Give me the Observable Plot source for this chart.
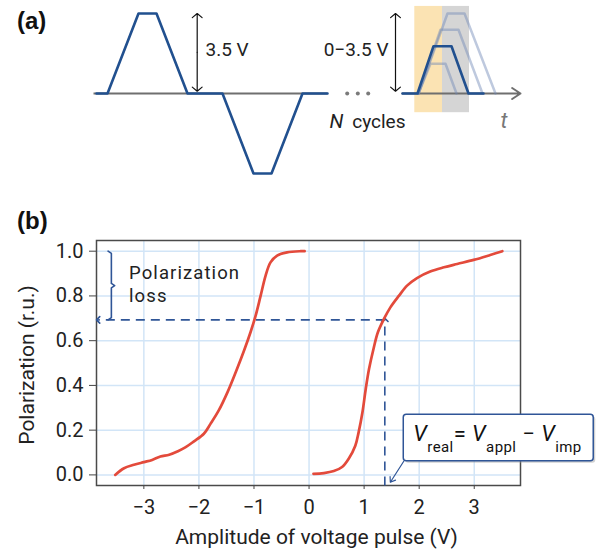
<!DOCTYPE html>
<html><head><meta charset="utf-8">
<script src="https://cdn.jsdelivr.net/npm/d3@7"></script>
<script src="https://cdn.jsdelivr.net/npm/@observablehq/plot@0.6"></script>
<style>
body{margin:0;background:#fff;}
#wrap{position:relative;width:600px;height:554px;overflow:hidden;font-family:Roboto,sans-serif;}
.panel{position:absolute;left:0;}
.tag{position:absolute;font-family:"Liberation Sans",Arial,sans-serif;font-weight:bold;font-size:24px;color:#111;line-height:1;}
</style></head><body>
<div id="wrap">
  <div id="pa" class="panel" style="top:0"></div>
  <div id="pb" class="panel" style="top:190px"></div>
  <div class="tag" style="left:17px;top:9px">(a)</div>
  <div class="tag" style="left:17px;top:209px">(b)</div>
</div>
<script>
// ---------- Panel (a): schematic pulse train (time in arbitrary units, amplitude in V)
const cycleT = [0.3, 1.4, 4.5, 6.3, 9.4, 12.9, 16.0, 17.8, 20.9, 23.4];
const cycleV = [0, 0, 3.5, 3.5, 0, 0, -3.5, -3.5, 0, 0];
const readT = [30.9, 32.4, 34.0, 35.8, 37.5, 39.0];
const readV = [0, 0, 2.07, 2.07, 0, 0];
const ghostIds = ["small","small","small","small","mid","mid","mid","mid","large","large","large","large"];
const ghostT = [32.5, 33.7, 35.2, 36.3, 32.5, 34.7, 36.5, 38.9, 32.5, 35.4, 37.1, 40.2];
const ghostV = [0, 1.3, 1.3, 0, 0, 2.79, 2.79, 0, 0, 3.5, 3.5, 0];
const winStart = [32.13, 34.9];
const winEnd = [34.9, 37.6];
const winV = [-0.84, 3.81];
const axisLeftT = [0, 23.4];
const axisRightT = [30.9, 42.7];
const dotsT = [25.37, 26.43, 27.47];
const ampArrowT = [10.37, 30.2];
const ampArrowV = [0.1, 3.5];

// ---------- Panel (b): polarization vs pulse amplitude
const leftV = [-3.52,-3.36,-3.18,-3.0,-2.85,-2.70,-2.54,-2.39,-2.24,-2.09,-1.91,-1.79,-1.64,-1.48,-1.33,-1.18,-1.06,-0.97,-0.88,-0.79,-0.70,-0.58,-0.40,-0.15,-0.08];
const leftP = [0.00,0.03,0.045,0.057,0.067,0.082,0.09,0.105,0.124,0.15,0.184,0.228,0.288,0.37,0.46,0.556,0.64,0.712,0.80,0.89,0.95,0.98,0.995,1.0,1.0];
const rightV = [0.08,0.27,0.45,0.60,0.72,0.84,0.90,0.97,1.03,1.09,1.17,1.25,1.36,1.48,1.63,1.78,1.96,2.20,2.45,2.69,2.99,3.29,3.51];
const rightP = [0.005,0.008,0.017,0.035,0.072,0.13,0.19,0.28,0.385,0.474,0.563,0.638,0.697,0.75,0.80,0.846,0.88,0.909,0.928,0.943,0.961,0.983,1.0];
const ticksX = [-3, -2, -1, 0, 1, 2, 3];
const ticksY = [0, 0.2, 0.4, 0.6, 0.8, 1.0];
const guideX1 = [1.376, 1.376], guideY1 = [0.693, -0.047];
const guideX2 = [-3.83, 1.376], guideY2 = [0.693, 0.693];
const braceV = [-3.65, -3.59, -3.59, -3.53, -3.59, -3.59, -3.65];
const braceP = [1.0, 0.99, 0.856, 0.846, 0.836, 0.703, 0.693];
const lossLabel = "Polarization\nloss";
const lossLabelV = -3.27, lossLabelP = 0.775;
const boxV = [1.72, 5.17], boxP = [0.061, 0.2686];
const pointerV = [1.72, 1.476], pointerP = [0.061, -0.033];
const formulaV = 1.902, formulaP = 0.1506;

// ---------- build panel (a)
const cycle = cycleT.map((t, i) => ({t, v: cycleV[i]}));
const read = readT.map((t, i) => ({t, v: readV[i]}));
const ghosts = ghostT.map((t, i) => ({id: ghostIds[i], t, v: ghostV[i]}));
const ampMid = (ampArrowV[0] + ampArrowV[1]) / 2;

const chartA = Plot.plot({
  width: 600, height: 190, margin: 0,
  x: {domain: [-9.3, 50.7], axis: null},
  y: {domain: [-4.244, 4.069], axis: null},
  style: {fontFamily: "Roboto, sans-serif", background: "transparent", overflow: "visible", color: "#222"},
  marks: [
    Plot.rect([0], {x1: winStart[0], x2: winEnd[0], y1: winV[0], y2: winV[1], fill: "#fbe3b3"}),
    Plot.rect([0], {x1: winStart[1], x2: winEnd[1], y1: winV[0], y2: winV[1], fill: "#d5d5d5"}),
    Plot.link([0], {x1: axisLeftT[0], x2: axisLeftT[1], y1: 0, y2: 0, stroke: "#6f6f6f", strokeWidth: 2}),
    Plot.arrow([0], {x1: axisRightT[0], x2: axisRightT[1], y1: 0, y2: 0, stroke: "#6f6f6f", strokeWidth: 2, headLength: 7.5, headAngle: 67}),
    Plot.dot(dotsT, {x: d => d, y: 0, r: 2, fill: "#7a7a7a", stroke: null}),
    Plot.line(ghosts, {x: "t", y: "v", z: "id", stroke: "#6f88b5", strokeOpacity: 0.45, strokeWidth: 2.5}),
    Plot.line(cycle, {x: "t", y: "v", stroke: "#21508f", strokeWidth: 2.6}),
    Plot.line(read, {x: "t", y: "v", stroke: "#21508f", strokeWidth: 2.6}),
    Plot.arrow(ampArrowT, {x1: d => d, x2: d => d, y1: ampMid, y2: ampArrowV[1], stroke: "#111", strokeWidth: 1.2, headLength: 8, headAngle: 100}),
    Plot.arrow(ampArrowT, {x1: d => d, x2: d => d, y1: ampMid, y2: ampArrowV[0], stroke: "#111", strokeWidth: 1.2, headLength: 8, headAngle: 100}),
    Plot.text(["3.5 V"], {text: d => d, x: 11.2, y: 1.925, textAnchor: "start", fontSize: 19, fill: "#222"}),
    Plot.text(["0\u22123.5 V"], {text: d => d, x: 29.5, y: 1.925, textAnchor: "end", fontSize: 19, fill: "#222"}),
    Plot.text(["N"], {text: d => d, x: 23.6, y: -1.531, textAnchor: "start", lineAnchor: "bottom", fontSize: 20, fontStyle: "italic", fill: "#222"}),
    Plot.text(["cycles"], {text: d => d, x: 25.87, y: -1.531, textAnchor: "start", lineAnchor: "bottom", fontSize: 19, fill: "#222"}),
    Plot.text(["t"], {text: d => d, x: 40.7, y: -1.531, textAnchor: "start", lineAnchor: "bottom", fontSize: 22, fontStyle: "italic", fill: "#777"})
  ]
});
document.getElementById("pa").appendChild(chartA);

// ---------- build panel (b)
const left = leftV.map((v, i) => ({v, p: leftP[i]}));
const right = rightV.map((v, i) => ({v, p: rightP[i]}));
const guides = guideX1.map((x1, i) => ({x1, y1: guideY1[i], x2: guideX2[i], y2: guideY2[i]}));
const brace = braceV.map((v, i) => ({v, p: braceP[i]}));
const blue = "#2f5597";

const chartB = Plot.plot({
  width: 600, height: 364,
  marginLeft: 96, marginRight: 80, marginTop: 50, marginBottom: 69,
  style: {fontFamily: "Roboto, sans-serif", fontSize: "20px", color: "#222", background: "transparent", overflow: "visible"},
  x: {domain: [-3.86, 3.84]},
  y: {domain: [-0.0474, 1.0478]},
  marks: [
    Plot.gridX(ticksX, {stroke: "#d2e5f7", strokeOpacity: 1, strokeWidth: 1.5}),
    Plot.gridY(ticksY, {stroke: "#d2e5f7", strokeOpacity: 1, strokeWidth: 1.5}),
    Plot.axisX(ticksX, {tickSize: 4, tickPadding: 10, fontSize: 20, stroke: "#444", label: null}),
    Plot.axisY(ticksY, {tickSize: 7, tickPadding: 6, fontSize: 20, stroke: "#444", tickFormat: d3.format(".1f"), label: null}),
    Plot.frame({stroke: "#4a4a4a", strokeWidth: 1.5}),
    Plot.text(["Amplitude of voltage pulse (V)"], {text: d => d, frameAnchor: "bottom", dy: 52, dx: 8, fontSize: 21, textAnchor: "middle", lineAnchor: "middle", fill: "#222"}),
    Plot.text(["Polarization (r.u.)"], {text: d => d, frameAnchor: "left", rotate: -90, dx: -69, dy: 2, fontSize: 21, textAnchor: "middle", lineAnchor: "middle", fill: "#222"}),
    Plot.link(guides, {x1: "x1", y1: "y1", x2: "x2", y2: "y2", stroke: blue, strokeWidth: 1.6, strokeDasharray: "9,6", markerEnd: "arrow"}),
    Plot.line(brace, {x: "v", y: "p", stroke: blue, strokeWidth: 1.6, curve: "linear"}),
    Plot.text([lossLabel], {text: d => d, x: lossLabelV, y: lossLabelP, textAnchor: "start", lineAnchor: "bottom", lineHeight: 1.2, fontSize: 18.5, fill: "#222"}),
    Plot.line(left, {x: "v", y: "p", stroke: "#e34a3b", strokeWidth: 2.7, curve: "catmull-rom"}),
    Plot.line(right, {x: "v", y: "p", stroke: "#e34a3b", strokeWidth: 2.7, curve: "catmull-rom"}),
    Plot.rect([0], {x1: boxV[0], x2: boxV[1], y1: boxP[0], y2: boxP[1], fill: "#999", fillOpacity: 0.45, dx: 2, dy: 2, rx: 3}),
    Plot.rect([0], {x1: boxV[0], x2: boxV[1], y1: boxP[0], y2: boxP[1], fill: "#fff", stroke: blue, strokeWidth: 1.5, rx: 3}),
    Plot.arrow([0], {x1: pointerV[0], y1: pointerP[0], x2: pointerV[1], y2: pointerP[1], stroke: blue, strokeWidth: 1.2, headLength: 7, headAngle: 70})
  ]
});
document.getElementById("pb").appendChild(chartB);

// slightly spaced annotation lettering, as in the reference
d3.select(chartB).selectAll("text")
  .filter(function () { return this.textContent === "Polarizationloss"; })
  .style("letter-spacing", "1.1px");

// formula with subscripts, positioned through the plot's scales
const sx = chartB.scale("x"), sy = chartB.scale("y");
const f = d3.select(chartB).append("text")
  .attr("x", sx.apply(formulaV)).attr("y", sy.apply(formulaP))
  .attr("text-anchor", "start")
  .attr("font-family", "Roboto, sans-serif").attr("font-size", 22).attr("fill", "#111")
  .attr("textLength", 168).attr("lengthAdjust", "spacing")
  .style("white-space", "pre");
const parts = [
  ["V", "main", true], ["real", "sub"], ["= ", "main"], ["V", "main", true],
  ["appl", "sub"], [" \u2212 ", "main"], ["V", "main", true], ["imp", "sub"]
];
let shifted = false;
for (const [s, kind, ital] of parts) {
  const t = f.append("tspan").text(s);
  if (kind === "sub") { t.attr("font-size", 15).attr("dy", 11); shifted = true; }
  else { if (shifted) { t.attr("dy", -11); shifted = false; } t.attr("font-size", 22); }
  if (ital) t.attr("font-style", "italic");
}
</script>
</body></html>
